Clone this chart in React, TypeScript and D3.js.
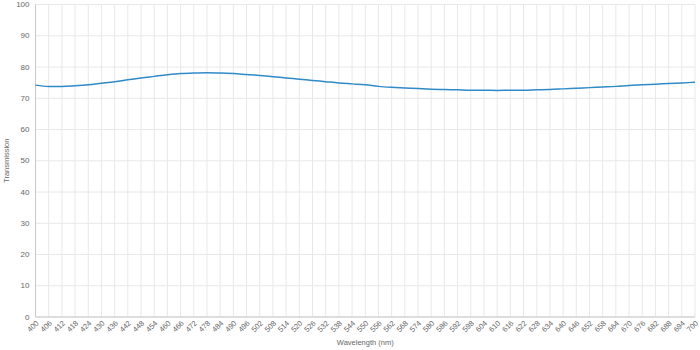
import React from "react";
import * as d3 from "d3";

const wavelengths = [400,406,412,418,424,430,436,442,448,454,460,466,472,478,484,490,496,502,508,514,520,526,532,538,544,550,556,562,568,574,580,586,592,598,604,610,616,622,628,634,640,646,652,658,664,670,676,682,688,694,700];
const transmission = [74.2,73.8,73.8,74.0,74.3,74.8,75.3,75.9,76.5,77.0,77.5,77.9,78.1,78.2,78.1,77.9,77.6,77.3,76.9,76.5,76.1,75.7,75.3,74.9,74.6,74.3,73.8,73.5,73.3,73.1,72.9,72.8,72.7,72.6,72.6,72.5,72.6,72.6,72.7,72.8,73.0,73.2,73.4,73.6,73.8,74.1,74.3,74.5,74.7,74.9,75.1];
const yTicks = [0,10,20,30,40,50,60,70,80,90,100];
const xTicks = wavelengths;

const W = 700, H = 350;
const M = { left: 35.5, right: 5, top: 4.5, bottom: 33 };

export default function App() {
  const x = d3.scaleLinear().domain([400, 700]).range([M.left, W - M.right]);
  const y = d3.scaleLinear().domain([0, 100]).range([H - M.bottom, M.top]);
  const data = wavelengths.map((w, i) => [w, transmission[i]] as [number, number]);
  const line = d3.line<[number, number]>().x(d => x(d[0])).y(d => y(d[1])).curve(d3.curveMonotoneX);
  const font = "Arial, 'Liberation Sans', Helvetica, sans-serif";
  return (
    <svg width={W} height={H} style={{ position: "absolute", left: 0, top: 0, background: "#fff" }} fontFamily={font}>
      {xTicks.map(t => (
        <line key={"gx" + t} x1={x(t)} x2={x(t)} y1={M.top} y2={H - M.bottom} stroke="#e8e8e8" strokeWidth={1} />
      ))}
      {yTicks.map(t => (
        <line key={"gy" + t} x1={M.left} x2={W - M.right} y1={y(t)} y2={y(t)} stroke="#e8e8e8" strokeWidth={1} />
      ))}
      <line x1={M.left} x2={M.left} y1={M.top} y2={H - M.bottom} stroke="#c8c8c8" />
      <line x1={M.left} x2={W - M.right} y1={H - M.bottom} y2={H - M.bottom} stroke="#c8c8c8" />
      {yTicks.map(t => (
        <text key={"ty" + t} x={M.left - 6} y={y(t)} dy="0.32em" textAnchor="end" fontSize={8} fill="#666">{t}</text>
      ))}
      {xTicks.map(t => (
        <text key={"tx" + t} transform={`translate(${x(t) + 2},${H - M.bottom + 5}) rotate(-45)`} textAnchor="end" dy="0.32em" fontSize={7.5} fill="#666">{t}</text>
      ))}
      <path d={line(data) || ""} fill="none" stroke="#2f8ac8" strokeWidth={1.5} />
      <text x={(M.left + W - M.right) / 2} y={345} textAnchor="middle" fontSize={7.5} fill="#666">Wavelength (nm)</text>
      <text transform={`translate(9,${(M.top + H - M.bottom) / 2}) rotate(-90)`} textAnchor="middle" fontSize={7.5} fill="#666">Transmission</text>
    </svg>
  );
}
